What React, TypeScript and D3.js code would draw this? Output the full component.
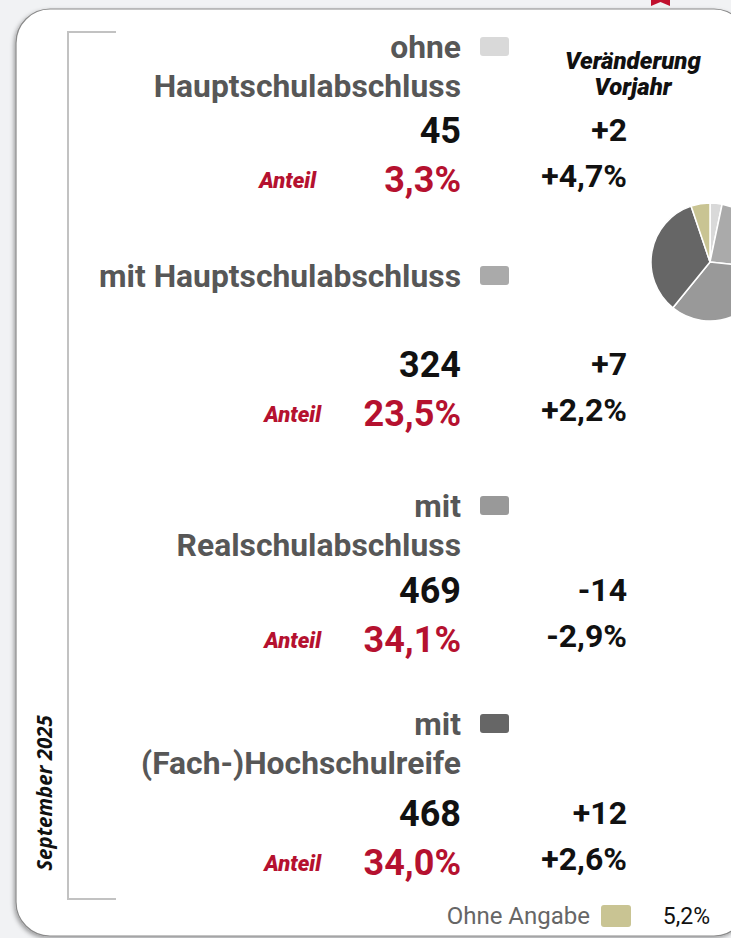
import React from "react";
import * as d3 from "d3";

// ---- data ----
const labelLines: string[][] = [
  ["ohne", "Hauptschulabschluss"],
  ["mit Hauptschulabschluss"],
  ["mit", "Realschulabschluss"],
  ["mit", "(Fach-)Hochschulreife"],
];
const counts = [45, 324, 469, 468];
const shares = [3.3, 23.5, 34.1, 34.0];
const changeAbs = [2, 7, -14, 12];
const changePct = [4.7, 2.2, -2.9, 2.6];
const swatchColors = ["#d9d9d9", "#aaaaaa", "#999999", "#666666"];
const ohneAngabeLabel = "Ohne Angabe";
const ohneAngabeShare = 5.2;
const ohneAngabeColor = "#c9c493";
const dateLabel = "September 2025";
const changeHeader = ["Veränderung", "Vorjahr"];
const shareLabel = "Anteil";

// ---- layout (positions only) ----
const W = 731;
const H = 938;
const groupLabelY = [58, 287, 517, 735];
const groupNumY = [143, 377, 603, 826];
const lineGap = 39;
const pctGap = 49;

const de = d3.formatLocale({ decimal: ",", thousands: ".", grouping: [3], currency: ["", "€"], minus: "-" });
const fmtPct = de.format(".1f");
const fmtSignedPct = de.format("+.1f");
const fmtSignedInt = de.format("+d");

export default function App() {
  const pieValues = [...shares, ohneAngabeShare];
  const pieColors = [...swatchColors, ohneAngabeColor];
  const pie = d3.pie<number>().sort(null).value((d) => d);
  const arcs = pie(pieValues);
  const arc = d3.arc<d3.PieArcDatum<number>>().innerRadius(0).outerRadius(59);

  const xRight = 461;
  const xSw = 480;
  const xChange = 627;
  const red = "#b5112f";
  const gray = "#575757";

  return (
    <svg
      width={W}
      height={H}
      style={{ position: "fixed", left: 0, top: 0, background: "#f1f2f4" }}
      fontFamily="Roboto, sans-serif"
    >
      <defs>
        <filter id="sh" x="-10%" y="-10%" width="120%" height="120%">
          <feDropShadow dx={-1.5} dy={2} stdDeviation={2} floodColor="#000" floodOpacity={0.35} />
        </filter>
      </defs>
      <rect x={0} y={0} width={W} height={H} fill="#f1f2f4" />
      {/* ribbon marker */}
      <path d="M651,0 L670,0 L670,6 L660.5,2 L651,6 Z" fill="#c0102e" />
      {/* card */}
      <rect x={16} y={9} width={732} height={927} rx={34} fill="#fff" stroke="#8a8a8a" strokeWidth={1.2} filter="url(#sh)" />
      {/* bracket */}
      <path d="M116,32 L68,32 L68,899 L116,899" fill="none" stroke="#c2c2c2" strokeWidth={2} />
      <text
        transform="translate(52,793) rotate(-90)"
        textAnchor="middle"
        fontFamily="'Open Sans', 'Noto Sans', sans-serif"
        fontWeight={700}
        fontStyle="italic"
        fontSize={20.5}
        fill="#111"
      >
        {dateLabel}
      </text>

      {/* header */}
      {changeHeader.map((t, i) => (
        <text key={t} x={633} y={69 + i * 26} textAnchor="middle" fontWeight={900} fontStyle="italic" fontSize={24} fill="#111">
          {t}
        </text>
      ))}

      {labelLines.map((lines, g) => {
        const ly = groupLabelY[g];
        const ny = groupNumY[g];
        return (
          <g key={g}>
            {lines.map((t, i) => (
              <text key={i} x={xRight} y={ly + i * lineGap} textAnchor="end" fontWeight={700} fontSize={31.8} fill={gray}>
                {t}
              </text>
            ))}
            <rect x={xSw} y={ly - 21} width={29} height={19} rx={3} fill={swatchColors[g]} />
            <text x={xRight} y={ny} textAnchor="end" fontWeight={700} fontSize={36} fill="#111">
              {counts[g]}
            </text>
            <text x={xRight} y={ny + pctGap} textAnchor="end" fontWeight={700} fontSize={36} fill={red}>
              {fmtPct(shares[g])}%
            </text>
            <text x={g === 0 ? 316 : 321} y={ny + pctGap - 4} textAnchor="end" fontWeight={900} fontStyle="italic" fontSize={22} fill={red}>
              {shareLabel}
            </text>
            <text x={xChange} y={ny - 2} textAnchor="end" fontWeight={700} fontSize={32} fill="#111">
              {fmtSignedInt(changeAbs[g])}
            </text>
            <text x={xChange} y={ny + pctGap - 5} textAnchor="end" fontWeight={700} fontSize={32} fill="#111">
              {fmtSignedPct(changePct[g])}%
            </text>
          </g>
        );
      })}

      {/* pie */}
      <g transform="translate(710,262)">
        {arcs.map((a, i) => (
          <path key={i} d={arc(a) || ""} fill={pieColors[i]} stroke="#fff" strokeWidth={1.5} />
        ))}
      </g>

      {/* ohne Angabe */}
      <text x={590} y={924} textAnchor="end" fontSize={24} fill="#666">
        {ohneAngabeLabel}
      </text>
      <rect x={601} y={905} width={30} height={22} rx={3} fill={ohneAngabeColor} />
      <text x={710} y={924} textAnchor="end" fontSize={23} fill="#111">
        {fmtPct(ohneAngabeShare)}%
      </text>
    </svg>
  );
}
